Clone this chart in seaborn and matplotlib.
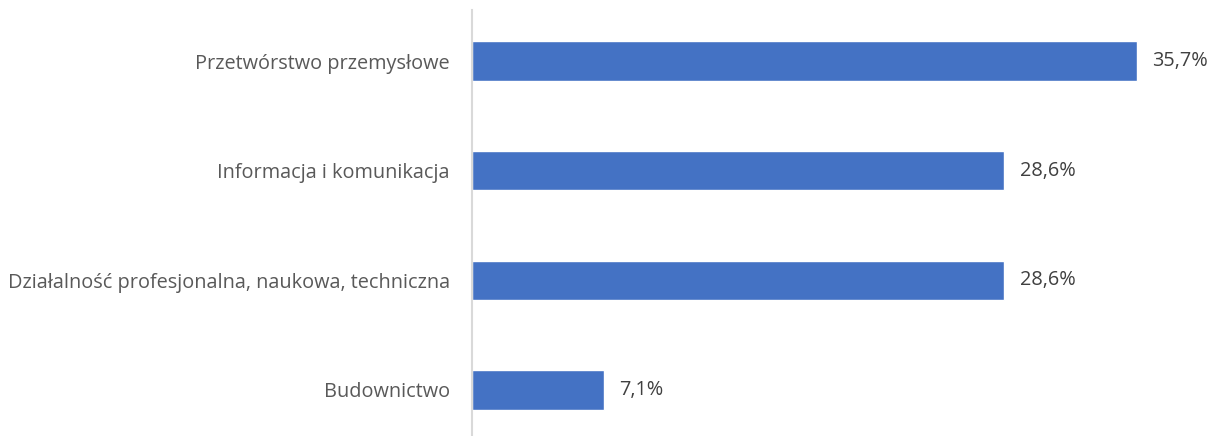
import pandas as pd
import matplotlib.pyplot as plt
import seaborn as sns

categories = [
    "Przetwórstwo przemysłowe",
    "Informacja i komunikacja",
    "Działalność profesjonalna, naukowa, techniczna",
    "Budownictwo",
]
values = [35.7, 28.6, 28.6, 7.1]
value_labels = ["35,7%", "28,6%", "28,6%", "7,1%"]


def main():
    sns.set_style("white")
    plt.rcParams["font.family"] = ["Open Sans", "DejaVu Sans"]

    df = pd.DataFrame({"sector": categories, "share": values})

    fig = plt.figure(figsize=(12.11, 4.36), dpi=100)
    ax = fig.add_axes([0.3898, 0.0, 0.6102, 0.977])
    sns.barplot(data=df, x="share", y="sector", orient="h", color="#4472C4",
                saturation=1, width=0.36, ax=ax)

    ax.set_xlim(0, 39.7)
    ax.set_ylim(3.42, -0.465)
    ax.set_xlabel("")
    ax.set_ylabel("")
    ax.set_xticks([])
    for side in ["top", "right", "bottom"]:
        ax.spines[side].set_visible(False)
    ax.spines["left"].set_color("#D9D9D9")
    ax.spines["left"].set_linewidth(1.5)
    ax.tick_params(axis="y", length=0, pad=16, labelsize=14.3, labelcolor="#595959")

    for i, (v, lab) in enumerate(zip(values, value_labels)):
        ax.annotate(lab, xy=(v, i), xytext=(11, 0), textcoords="offset points",
                    va="center", ha="left", fontsize=14.3, color="#404040")

    fig.savefig("out.png", dpi=100)


if __name__ == "__main__":
    main()
